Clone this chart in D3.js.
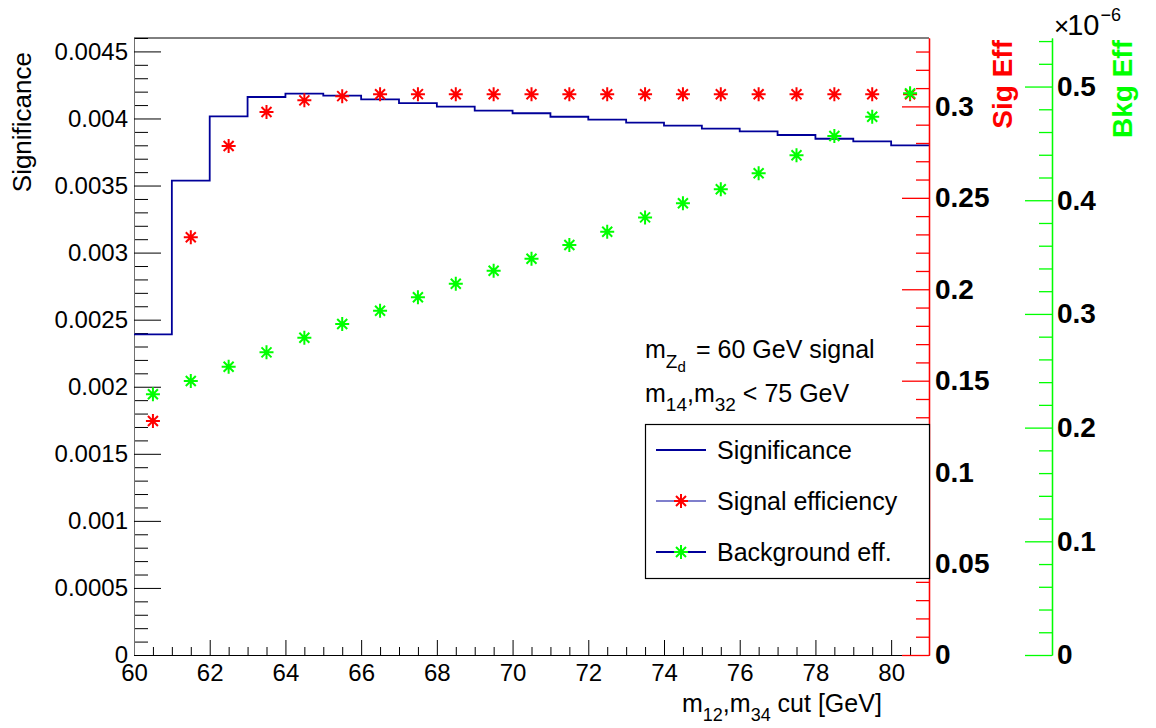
<!DOCTYPE html>
<html>
<head>
<meta charset="utf-8">
<script src="https://cdn.jsdelivr.net/npm/d3@7"></script>
<style>
  body { margin: 0; background: #fff; }
  svg text { font-family: "Liberation Sans", Arial, Helvetica, sans-serif; }
</style>
</head>
<body>
<svg id="chart"></svg>
<script>
// lower edge of each 1 GeV cut bin
const cutLow = [60, 61, 62, 63, 64, 65, 66, 67, 68, 69, 70, 71, 72, 73, 74, 75, 76, 77, 78, 79, 80];
const significance = [0.00239, 0.003537, 0.004016, 0.00416, 0.004185, 0.00417, 0.004143, 0.004115, 0.004088,
  0.004059, 0.004039, 0.004013, 0.003991, 0.003969, 0.003946, 0.003924, 0.003904, 0.003877, 0.003849, 0.00383, 0.0038];
const sigEff = [0.128, 0.2284, 0.2783, 0.2969, 0.3033, 0.3056, 0.3066, 0.3067, 0.3066, 0.3066, 0.3066,
  0.3066, 0.3066, 0.3066, 0.3066, 0.3066, 0.3066, 0.3066, 0.3066, 0.3066, 0.3066];
// background efficiency, in units of 1e-6
const bkgEff = [0.2293, 0.241, 0.2536, 0.2662, 0.2791, 0.2911, 0.3028, 0.3146, 0.3266, 0.338, 0.3486,
  0.3606, 0.3723, 0.3849, 0.3973, 0.4096, 0.4237, 0.4395, 0.4565, 0.4734, 0.494];
const legendLabels = ["Significance", "Signal efficiency", "Background eff."];

class CutScan {
  constructor(_config) {
    this.config = {
      parentElement: _config.parentElement,
      containerWidth: _config.containerWidth || 1156,
      containerHeight: _config.containerHeight || 728
    };
    this.config.margin = _config.margin || { top: 38, bottom: 73, right: 227, left: 134 };
    this.config.width = this.config.containerWidth - this.config.margin.left - this.config.margin.right;
    this.config.height = this.config.containerHeight - this.config.margin.top - this.config.margin.bottom;
    this.svg = d3.select(this.config.parentElement)
        .attr('width', this.config.containerWidth)
        .attr('height', this.config.containerHeight);
  }

  initVis() {
    let vis = this;
    const w = vis.config.width, h = vis.config.height;

    vis.chart = vis.svg.append('g')
        .attr('transform', `translate(${vis.config.margin.left}, ${vis.config.margin.top})`);

    vis.x = d3.scaleLinear().domain([60, 81]).range([0, w]);
    vis.y = d3.scaleLinear().domain([0, 0.0046]).range([h, 0]);
    vis.ySig = d3.scaleLinear().domain([0, 0.3374]).range([h, 0]);
    vis.yBkg = d3.scaleLinear().domain([0, 0.5427]).range([h, 0]);

    vis.render();
  }

  render() {
    let vis = this;
    const w = vis.config.width, h = vis.config.height;
    const fmt = d => d === 0 ? '0' : String(+d.toFixed(4));

    // top frame line
    vis.chart.append('line')
        .attr('x1', 0).attr('x2', w).attr('y1', 0).attr('y2', 0)
        .attr('stroke', '#000');

    // x axis
    const xMinor = d3.range(0, 43).map(i => 60 + i * 0.5).filter(v => v % 2 !== 0);
    vis.chart.append('g')
        .attr('transform', `translate(0, ${h})`)
        .call(d3.axisBottom(vis.x).tickValues(xMinor).tickSize(-8).tickSizeOuter(0).tickFormat(''))
        .call(g => g.select('.domain').remove());
    vis.chart.append('g')
        .attr('class', 'x-axis')
        .attr('transform', `translate(0, ${h})`)
        .call(d3.axisBottom(vis.x).tickValues(d3.range(0, 11).map(i => 60 + i * 2))
            .tickSize(-15).tickSizeOuter(0).tickPadding(9));

    // left axis
    const yMinor = d3.range(0, 47).filter(i => i % 5 !== 0).map(i => i * 0.0001);
    vis.chart.append('g')
        .call(d3.axisLeft(vis.y).tickValues(yMinor).tickSize(-14).tickSizeOuter(0).tickFormat(''))
        .call(g => g.select('.domain').remove());
    vis.chart.append('g')
        .attr('class', 'y-axis')
        .call(d3.axisLeft(vis.y).tickValues(d3.range(0, 10).map(i => i * 0.0005))
            .tickSize(-27).tickSizeOuter(0).tickPadding(6).tickFormat(fmt))
        .call(g => g.select('.domain').attr('stroke', '#707070'));

    vis.svg.selectAll('.x-axis text, .y-axis text')
        .attr('font-size', 24).attr('fill', '#000');

    // significance step histogram
    const steps = cutLow.map((c, i) => [c, significance[i]]);
    steps.push([81, significance[significance.length - 1]]);
    vis.chart.append('path')
        .datum(steps)
        .attr('fill', 'none')
        .attr('stroke', '#000099')
        .attr('stroke-width', 1.8)
        .attr('d', d3.line().x(d => vis.x(d[0])).y(d => vis.y(d[1])).curve(d3.curveStepAfter));

    // red signal efficiency axis
    const sigMinor = d3.range(0, 34).filter(i => i % 5 !== 0).map(i => i * 0.01);
    const redAxis = vis.chart.append('g').attr('transform', `translate(${w}, 0)`);
    redAxis.call(d3.axisRight(vis.ySig).tickValues(sigMinor).tickSize(-13).tickSizeOuter(0).tickFormat(''));
    redAxis.append('g')
        .call(d3.axisRight(vis.ySig).tickValues(d3.range(0, 7).map(i => i * 0.05))
            .tickSize(-27).tickSizeOuter(0).tickPadding(6).tickFormat(fmt));
    redAxis.selectAll('line, path').attr('stroke', '#ff0000').attr('stroke-width', 1.3);
    redAxis.selectAll('text')
        .attr('font-size', 28).attr('font-weight', 'bold').attr('fill', '#000');
    redAxis.append('text')
        .attr('transform', 'translate(83, 2) rotate(-90)')
        .attr('text-anchor', 'end')
        .attr('font-size', 28).attr('font-weight', 'bold')
        .attr('fill', '#ff0000')
        .text('Sig Eff');

    // green background efficiency axis
    const bkgX = 1052 - vis.config.margin.left;
    const bkgMinor = d3.range(0, 28).filter(i => i % 5 !== 0).map(i => i * 0.02);
    const greenAxis = vis.chart.append('g').attr('transform', `translate(${bkgX}, 0)`);
    greenAxis.call(d3.axisRight(vis.yBkg).tickValues(bkgMinor).tickSize(-13).tickSizeOuter(0).tickFormat(''));
    greenAxis.append('g')
        .call(d3.axisRight(vis.yBkg).tickValues(d3.range(0, 6).map(i => i * 0.1))
            .tickSize(-27).tickSizeOuter(0).tickPadding(5).tickFormat(fmt));
    greenAxis.selectAll('line, path').attr('stroke', '#00ff00').attr('stroke-width', 1.3);
    greenAxis.selectAll('text')
        .attr('font-size', 28).attr('font-weight', 'bold').attr('fill', '#000');
    greenAxis.append('text')
        .attr('transform', 'translate(80, 2) rotate(-90)')
        .attr('text-anchor', 'end')
        .attr('font-size', 28).attr('font-weight', 'bold')
        .attr('fill', '#00ff00')
        .text('Bkg Eff');
    const expo = greenAxis.append('text')
        .attr('x', 2).attr('y', -3)
        .attr('fill', '#000');
    expo.append('tspan').attr('font-size', 26).text('\u00d7');
    expo.append('tspan').attr('font-size', 29).attr('dx', -2).text('10');
    expo.append('tspan').attr('dy', -14).attr('dx', 1).attr('font-size', 18).text('\u22126');

    // star markers
    const star = 'M-7,0L7,0M0,-7L0,7M-5,-5L5,5M-5,5L5,-5';
    vis.chart.append('g')
        .selectAll('path')
        .data(sigEff)
        .enter().append('path')
        .attr('d', star)
        .attr('transform', (d, i) => `translate(${vis.x(cutLow[i] + 0.5)}, ${vis.ySig(d)})`)
        .attr('stroke', '#ff0000').attr('stroke-width', 2).attr('fill', 'none');
    vis.chart.append('g')
        .selectAll('path')
        .data(bkgEff)
        .enter().append('path')
        .attr('d', star)
        .attr('transform', (d, i) => `translate(${vis.x(cutLow[i] + 0.5)}, ${vis.yBkg(d)})`)
        .attr('stroke', '#00ff00').attr('stroke-width', 2).attr('fill', 'none');

    // annotation
    const ann = vis.chart.append('g').attr('font-size', 25).attr('fill', '#000');
    const l1 = ann.append('text').attr('x', 511).attr('y', 320);
    l1.append('tspan').text('m');
    l1.append('tspan').attr('dy', 10).attr('font-size', 19).text('Z');
    l1.append('tspan').attr('dy', 4).attr('font-size', 15).text('d');
    l1.append('tspan').attr('x', 562).attr('y', 320).text('= 60 GeV signal');
    const l2 = ann.append('text').attr('x', 511).attr('y', 364);
    l2.append('tspan').text('m');
    l2.append('tspan').attr('dy', 9).attr('font-size', 19).text('14');
    l2.append('tspan').attr('dy', -9).text(',m');
    l2.append('tspan').attr('dy', 9).attr('font-size', 19).text('32');
    l2.append('tspan').attr('dy', -9).text(' < 75 GeV');

    // legend
    const lg = vis.chart.append('g').attr('transform', `translate(${645 - vis.config.margin.left}, ${424 - vis.config.margin.top})`);
    lg.append('rect')
        .attr('x', 0.5).attr('y', 0.5).attr('width', 284).attr('height', 154)
        .attr('fill', '#fff').attr('stroke', '#000').attr('stroke-width', 1.2);
    const rows = lg.selectAll('g.row')
        .data(legendLabels)
        .enter().append('g')
        .attr('class', 'row')
        .attr('transform', (d, i) => `translate(0, ${26 + i * 51})`);
    rows.append('line')
        .attr('x1', 11).attr('x2', 61)
        .attr('stroke', '#000099')
        .attr('stroke-width', (d, i) => i === 1 ? 1.2 : 1.8);
    rows.filter((d, i) => i > 0).append('path')
        .attr('d', star)
        .attr('transform', 'translate(36, 0)')
        .attr('stroke', (d, i) => i === 0 ? '#ff0000' : '#00ff00')
        .attr('stroke-width', 2).attr('fill', 'none');
    rows.append('text')
        .attr('x', 72).attr('dy', '0.35em')
        .attr('font-size', 25).attr('fill', '#000')
        .text(d => d);

    // axis titles
    vis.svg.append('text')
        .attr('transform', 'translate(31, 52) rotate(-90)')
        .attr('text-anchor', 'end')
        .attr('font-size', 26).attr('fill', '#000')
        .text('Significance');
    const xt = vis.svg.append('text')
        .attr('x', 682).attr('y', 712)
        .attr('font-size', 25).attr('fill', '#000');
    xt.append('tspan').text('m');
    xt.append('tspan').attr('dy', 9).attr('font-size', 18).text('12');
    xt.append('tspan').attr('dy', -9).text(',m');
    xt.append('tspan').attr('dy', 9).attr('font-size', 18).text('34');
    xt.append('tspan').attr('dy', -9).text(' cut [GeV]');
  }
}

const chart = new CutScan({ parentElement: '#chart' });
chart.initVis();
</script>
</body>
</html>
